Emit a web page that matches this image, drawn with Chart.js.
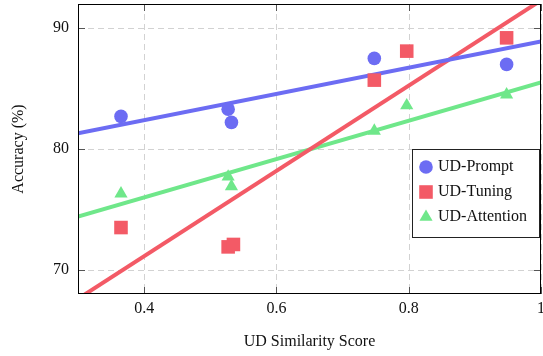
<!DOCTYPE html>
<html>
<head>
<meta charset="utf-8">
<script src="https://cdn.jsdelivr.net/npm/chart.js@4"></script>
<style>
  body { margin: 0; background: #fff; }
  #wrap { width: 543px; height: 356px; }
</style>
</head>
<body>
<div id="wrap"><canvas id="sim-chart" width="543" height="356"></canvas></div>
<script>
// similarity scores (x) per series
const promptX = [0.365, 0.527, 0.532, 0.748, 0.948];
const promptY = [82.7, 83.3, 82.2, 87.5, 87.0];
const tuningX = [0.365, 0.527, 0.535, 0.748, 0.797, 0.948];
const tuningY = [73.5, 71.9, 72.1, 85.7, 88.1, 89.2];
const attentionX = [0.365, 0.527, 0.532, 0.748, 0.797, 0.948];
const attentionY = [76.3, 77.7, 76.9, 81.5, 83.6, 84.5];

// trend line ends at x = 0.3 and x = 1.0
const trendX = [0.3, 1.0];
const promptTrend = [81.3, 88.9];
const tuningTrend = [67.6, 92.3];
const attentionTrend = [74.4, 85.5];

const xTicks = [0.4, 0.6, 0.8, 1.0];
const xTickLabels = ["0.4", "0.6", "0.8", "1"];
const yTicks = [70, 80, 90];
const yTickLabels = ["70", "80", "90"];

const blue = "#6c6cf3";
const red = "#f35a66";
const green = "#6fe78a";
const serif = "'Liberation Serif', 'DejaVu Serif', serif";

const pts = (xs, ys) => xs.map((x, i) => ({ x: x, y: ys[i] }));

const noPad = (s) => { s.paddingTop = 0; s.paddingBottom = 0; s.paddingLeft = 0; s.paddingRight = 0; };

// dashed grid under the data
const gridPlugin = {
  id: "dashGrid",
  beforeDatasetsDraw(chart) {
    const ctx = chart.ctx;
    const a = chart.chartArea;
    ctx.save();
    ctx.strokeStyle = "#d2d2d2";
    ctx.lineWidth = 1;
    ctx.setLineDash([6, 4]);
    ctx.beginPath();
    xTicks.forEach((v) => {
      const px = Math.round(chart.scales.x.getPixelForValue(v)) + 0.5;
      ctx.moveTo(px, a.top); ctx.lineTo(px, a.bottom);
    });
    yTicks.forEach((v) => {
      const py = Math.round(chart.scales.y.getPixelForValue(v)) + 0.5;
      ctx.moveTo(a.left, py); ctx.lineTo(a.right, py);
    });
    ctx.stroke();
    ctx.restore();
  }
};

// box, inner tick marks and legend drawn after the chart
const framePlugin = {
  id: "frame",
  afterDraw(chart) {
    const ctx = chart.ctx;
    const a = chart.chartArea;
    const xs = chart.scales.x;
    const ys = chart.scales.y;
    ctx.save();
    ctx.strokeStyle = "#555";
    ctx.lineWidth = 1;
    ctx.beginPath();
    xTicks.forEach((v) => {
      const px = Math.round(xs.getPixelForValue(v)) + 0.5;
      ctx.moveTo(px, a.bottom); ctx.lineTo(px, a.bottom - 7);
      ctx.moveTo(px, a.top); ctx.lineTo(px, a.top + 7);
    });
    yTicks.forEach((v) => {
      const py = Math.round(ys.getPixelForValue(v)) + 0.5;
      ctx.moveTo(a.left, py); ctx.lineTo(a.left + 7, py);
      ctx.moveTo(a.right, py); ctx.lineTo(a.right - 7, py);
    });
    ctx.stroke();
    ctx.strokeStyle = "#000";
    ctx.strokeRect(a.left + 0.5, a.top + 0.5, a.right - a.left - 1, a.bottom - a.top - 1);

    // legend
    const bx = a.right - 129, by = a.top + 145, bw = 127, bh = 88;
    ctx.fillStyle = "#fff";
    ctx.fillRect(bx, by, bw, bh);
    ctx.strokeStyle = "#222";
    ctx.strokeRect(bx + 0.5, by + 0.5, bw, bh);
    ctx.font = "16px " + serif;
    ctx.textBaseline = "middle";
    chart.data.datasets.filter((d) => d.type === "scatter").forEach((d, i) => {
      const cy = by + 18 + i * 25;
      ctx.fillStyle = d.backgroundColor;
      Chart.helpers.drawPoint(ctx, { pointStyle: d.pointStyle, radius: d.pointRadius, borderWidth: 0, rotation: 0 }, bx + 14, cy);
      ctx.fillStyle = "#111";
      ctx.fillText(d.label, bx + 26, cy);
    });
    ctx.restore();
  }
};

new Chart(document.getElementById("sim-chart").getContext("2d"), {
  type: "scatter",
  data: {
    datasets: [
      { type: "line", label: "prompt fit", data: pts(trendX, promptTrend), borderColor: blue, borderWidth: 4, pointRadius: 0, clip: 0, order: 2 },
      { type: "line", label: "tuning fit", data: pts(trendX, tuningTrend), borderColor: red, borderWidth: 4, pointRadius: 0, clip: 0, order: 2 },
      { type: "line", label: "attention fit", data: pts(trendX, attentionTrend), borderColor: green, borderWidth: 4, pointRadius: 0, clip: 0, order: 2 },
      { type: "scatter", label: "UD-Prompt", data: pts(promptX, promptY), backgroundColor: blue, borderWidth: 0, pointStyle: "circle", pointRadius: 6.8, order: 1 },
      { type: "scatter", label: "UD-Tuning", data: pts(tuningX, tuningY), backgroundColor: red, borderWidth: 0, pointStyle: "rect", pointRadius: 9.6, order: 1 },
      { type: "scatter", label: "UD-Attention", data: pts(attentionX, attentionY), backgroundColor: green, borderWidth: 0, pointStyle: "triangle", pointRadius: 7.6, order: 1 }
    ]
  },
  options: {
    responsive: false,
    animation: false,
    layout: { autoPadding: false, padding: { top: 4, right: 2, left: 0, bottom: 0 } },
    plugins: {
      legend: { display: false },
      tooltip: { enabled: false }
    },
    scales: {
      x: {
        type: "linear",
        min: 0.3,
        max: 1.0,
        afterBuildTicks: (s) => { s.ticks = xTicks.map((v) => ({ value: v })); },
        afterFit: (s) => { s.height = 62; noPad(s); },
        ticks: {
          padding: 5,
          color: "#111",
          font: { family: serif, size: 16 },
          callback: (v) => xTickLabels[xTicks.indexOf(v)]
        },
        grid: { display: false, drawTicks: false },
        border: { display: false },
        title: { display: true, text: "UD Similarity Score", color: "#111", font: { family: serif, size: 16 }, padding: { top: 4, bottom: 5 } }
      },
      y: {
        type: "linear",
        min: 68,
        max: 92,
        afterBuildTicks: (s) => { s.ticks = yTicks.map((v) => ({ value: v })); },
        afterFit: (s) => { s.width = 78; noPad(s); },
        ticks: {
          padding: 9,
          color: "#111",
          font: { family: serif, size: 16 },
          callback: (v) => yTickLabels[yTicks.indexOf(v)]
        },
        grid: { display: false, drawTicks: false },
        border: { display: false },
        title: { display: true, text: "Accuracy (%)", color: "#111", font: { family: serif, size: 16 }, padding: { top: 9, bottom: 4 } }
      }
    }
  },
  plugins: [gridPlugin, framePlugin]
});
</script>
</body>
</html>
